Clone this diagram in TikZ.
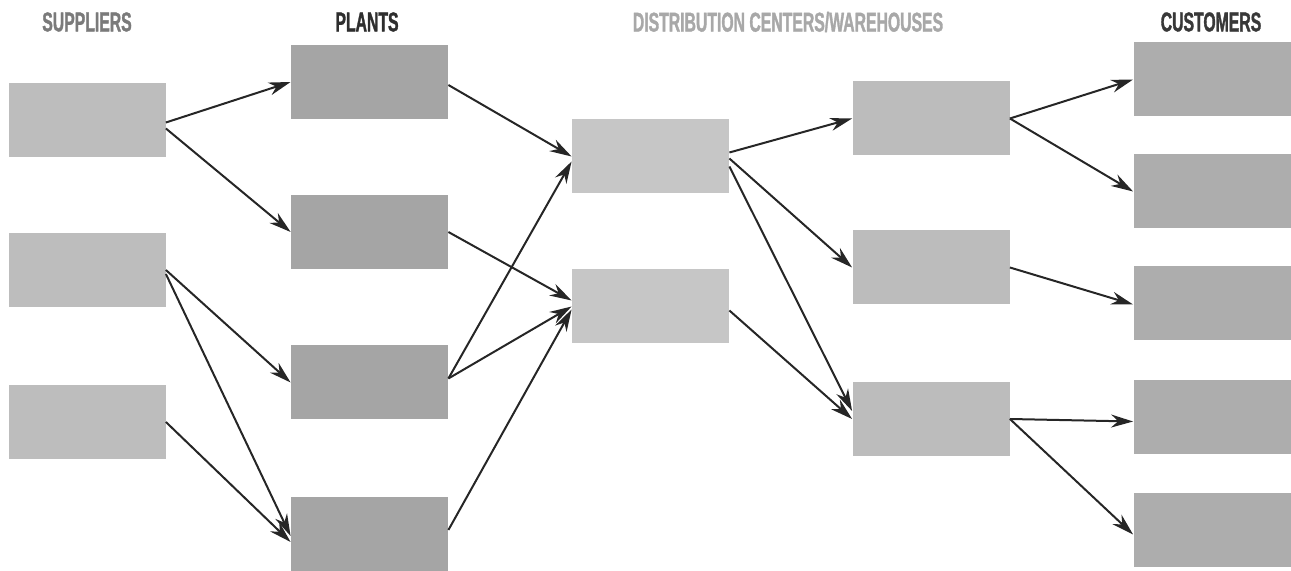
\documentclass[tikz,border=0pt]{standalone}
\usepackage{fontspec}
\usepackage{xcolor}
\usepackage{tikz}
\usetikzlibrary{arrows.meta}
\newfontfamily\headfont[FakeStretch=0.58, FakeBold=1.2]{Liberation Sans Bold}
\definecolor{suppgray}{HTML}{BDBDBD}
\definecolor{plantgray}{HTML}{A5A5A5}
\definecolor{dcgray}{HTML}{C6C6C6}
\definecolor{whgray}{HTML}{BCBCBC}
\definecolor{custgray}{HTML}{ADADAD}
\tikzset{
  box/.style={minimum width=78.5pt, minimum height=37pt, inner sep=0pt},
  head/.style={font=\headfont\fontsize{13.6}{15}\selectfont, inner sep=0pt},
  link/.style={-{Stealth[length=11pt,width=6.5pt]}, line width=1pt, black!85}
}

\begin{document}
\begin{tikzpicture}[x=0.5pt, y=-0.5pt]
\useasboundingbox (0,0) rectangle (1291,571);
% Titulos
\node[head, text=black!52] (tsupp) at (87,22) {SUPPLIERS};
\node[head, text=black!82] (tplant) at (367,22) {PLANTS};
\node[head, text=black!34] (tdc) at (788,22) {DISTRIBUTION CENTERS/WAREHOUSES};
\node[head, text=black!78] (tcust) at (1211,22) {CUSTOMERS};
% Fornecedores
\node[box, fill=suppgray] (s1) at (87,120.5) {};
\node[box, fill=suppgray] (s2) at (87,270) {};
\node[box, fill=suppgray] (s3) at (87,422) {};
% Fabricas
\node[box, fill=plantgray] (p1) at (369.5,82) {};
\node[box, fill=plantgray] (p2) at (369.5,232) {};
\node[box, fill=plantgray] (p3) at (369.5,382.5) {};
\node[box, fill=plantgray] (p4) at (369.5,534) {};
% Centros de distribuicao
\node[box, fill=dcgray] (d1) at (650.5,156.5) {};
\node[box, fill=dcgray] (d2) at (650.5,306.5) {};
% Armazens
\node[box, fill=whgray] (w1) at (931,118.5) {};
\node[box, fill=whgray] (w2) at (931,267.5) {};
\node[box, fill=whgray] (w3) at (931,419) {};
% Clientes
\node[box, fill=custgray] (c1) at (1212,79.5) {};
\node[box, fill=custgray] (c2) at (1212,191.5) {};
\node[box, fill=custgray] (c3) at (1212,303.5) {};
\node[box, fill=custgray] (c4) at (1212,417.5) {};
\node[box, fill=custgray] (c5) at (1212,530.5) {};
% Fornecedores -> fabricas
\draw[link] ([yshift=-1pt]s1.east) -- (p1.west);
\draw[link] ([yshift=-4pt]s1.east) -- (p2.west);
\draw[link] (s2.east) -- (p3.west);
\draw[link] ([yshift=-2pt]s2.east) -- ([yshift=-1pt]p4.west);
\draw[link] (s3.east) -- ([yshift=-4pt]p4.west);
% Fabricas -> centros
\draw[link] ([yshift=-1.5pt]p1.east) -- (d1.west);
\draw[link] (p2.east) -- ([yshift=3pt]d2.west);
\draw[link] ([yshift=2pt]p3.east) -- ([yshift=-2.5pt]d1.west);
\draw[link] ([yshift=2pt]p3.east) -- (d2.west);
\draw[link] ([yshift=2pt]p4.east) -- ([yshift=-1.5pt]d2.west);
% Centros -> armazens
\draw[link] ([yshift=2pt]d1.east) -- (w1.west);
\draw[link] ([yshift=-1pt]d1.east) -- (w2.west);
\draw[link] ([yshift=-5pt]d1.east) -- ([yshift=4pt]w3.west);
\draw[link] ([yshift=-2pt]d2.east) -- (w3.west);
% Armazens -> clientes
\draw[link] (w1.east) -- (c1.west);
\draw[link] (w1.east) -- (c2.west);
\draw[link] (w2.east) -- ([yshift=-0.5pt]c3.west);
\draw[link] (w3.east) -- ([yshift=-2pt]c4.west);
\draw[link] (w3.east) -- ([yshift=-2pt]c5.west);
\end{tikzpicture}
\end{document}
